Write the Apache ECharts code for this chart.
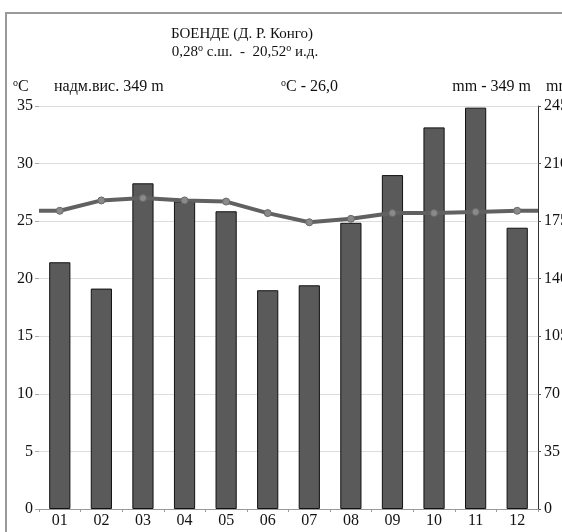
<!DOCTYPE html>
<html>
<head>
<meta charset="utf-8">
<script src="https://cdn.jsdelivr.net/npm/echarts@6/dist/echarts.min.js"></script>
<style>
html,body{margin:0;padding:0;background:#fff;overflow:hidden;width:562px;height:532px;}
#c{width:562px;height:532px;overflow:hidden;}
</style>
</head>
<body>
<div id="c"></div>
<script>
// Data
var months = ['01','02','03','04','05','06','07','08','09','10','11','12'];
var precipMm = [150, 134, 198, 187, 181, 133, 136, 174, 203, 232, 244, 171];
var tempC = [25.9, 26.8, 27.0, 26.8, 26.7, 25.7, 24.9, 25.2, 25.7, 25.7, 25.8, 25.9];
var tempEdges = [25.9, 25.9]; // line value at left and right plot edges
var tempTicks = [0, 5, 10, 15, 20, 25, 30, 35];
var mmTicks = [0, 35, 70, 105, 140, 175, 210, 245];

var titleLine1 = 'БОЕНДЕ (Д. Р. Конго)';
var stationAlt = 'надм.вис. 349 m';
var meanTempText = ' - 26,0';
var sumPrecText = 'mm - 349 m';

var serif = '"Liberation Serif", "DejaVu Serif", serif';

var lineData = [{value: [0, tempEdges[0]], symbol: 'none'}];
tempC.forEach(function (t, i) { lineData.push([i + 0.5, t]); });
lineData.push({value: [months.length, tempEdges[1]], symbol: 'none'});

var supRich = {s: {fontSize: 10, padding: [0, 0, 7, 0], fontFamily: serif, fill: '#111'}};

var chart = echarts.init(document.getElementById('c'), null, {renderer: 'canvas', width: 562, height: 532});
chart.setOption({
  animation: false,
  backgroundColor: '#fff',
  textStyle: {fontFamily: serif},
  grid: {left: 39, right: 24, top: 106, bottom: 23, containLabel: false, outerBoundsMode: 'none'},
  xAxis: [{
    type: 'category',
    data: months,
    boundaryGap: true,
    axisLine: {show: true, lineStyle: {color: '#999', width: 1}},
    axisTick: {show: true, length: 3, lineStyle: {color: '#999'}},
    axisLabel: {color: '#111', fontSize: 16, fontFamily: serif, margin: 4}
  }, {
    type: 'value',
    min: 0, max: months.length,
    show: false
  }],
  yAxis: [{
    type: 'value',
    min: tempTicks[0], max: tempTicks[tempTicks.length - 1], interval: 5,
    axisLine: {show: false},
    axisTick: {show: true, length: 4, lineStyle: {color: '#aaa'}},
    axisLabel: {color: '#111', fontSize: 16, fontFamily: serif, margin: 6},
    splitLine: {show: true, lineStyle: {color: '#ddd', width: 1}}
  }, {
    type: 'value',
    position: 'right',
    min: mmTicks[0], max: mmTicks[mmTicks.length - 1], interval: 35,
    axisLine: {show: true, lineStyle: {color: '#333', width: 1}},
    axisTick: {show: true, length: 3, lineStyle: {color: '#555'}},
    axisLabel: {color: '#111', fontSize: 16, fontFamily: serif, margin: 6},
    splitLine: {show: false}
  }],
  series: [{
    type: 'bar',
    xAxisIndex: 0,
    yAxisIndex: 1,
    data: precipMm,
    barWidth: '51%',
    itemStyle: {color: '#5a5a5a', borderColor: '#111', borderWidth: 1}
  }, {
    type: 'line',
    xAxisIndex: 1,
    yAxisIndex: 0,
    data: lineData,
    symbol: 'circle',
    symbolSize: 7,
    lineStyle: {color: '#616161', width: 4},
    itemStyle: {color: '#8a8a8a', borderColor: '#6a6a6a', borderWidth: 1},
    z: 5
  }],
  graphic: [{
    type: 'rect',
    shape: {x: 6, y: 13, width: 700, height: 700},
    style: {fill: null, stroke: '#9a9a9a', lineWidth: 2},
    silent: true, z: -1
  }, {
    type: 'text',
    style: {
      x: 242, y: 34, text: titleLine1, align: 'center', verticalAlign: 'middle',
      font: '15px ' + serif, fill: '#111'
    }
  }, {
    type: 'text',
    style: {
      x: 245, y: 52,
      text: '0,28{s|o} с.ш.  -  20,52{s|o} и.д.',
      align: 'center', verticalAlign: 'middle',
      font: '15px ' + serif, fill: '#111',
      rich: supRich
    }
  }, {
    type: 'text',
    style: {
      x: 13, y: 87, text: '{s|o}C', verticalAlign: 'middle',
      font: '16px ' + serif, fill: '#111',
      rich: supRich
    }
  }, {
    type: 'text',
    style: {
      x: 54, y: 87, text: stationAlt, verticalAlign: 'middle',
      font: '16px ' + serif, fill: '#111'
    }
  }, {
    type: 'text',
    style: {
      x: 281, y: 87, text: '{s|o}C' + meanTempText, verticalAlign: 'middle',
      font: '16px ' + serif, fill: '#111',
      rich: supRich
    }
  }, {
    type: 'text',
    style: {
      x: 531, y: 87, text: sumPrecText, align: 'right', verticalAlign: 'middle',
      font: '16px ' + serif, fill: '#111'
    }
  }, {
    type: 'text',
    style: {
      x: 546, y: 87, text: 'mm', verticalAlign: 'middle',
      font: '16px ' + serif, fill: '#111'
    }
  }]
});
</script>
</body>
</html>
